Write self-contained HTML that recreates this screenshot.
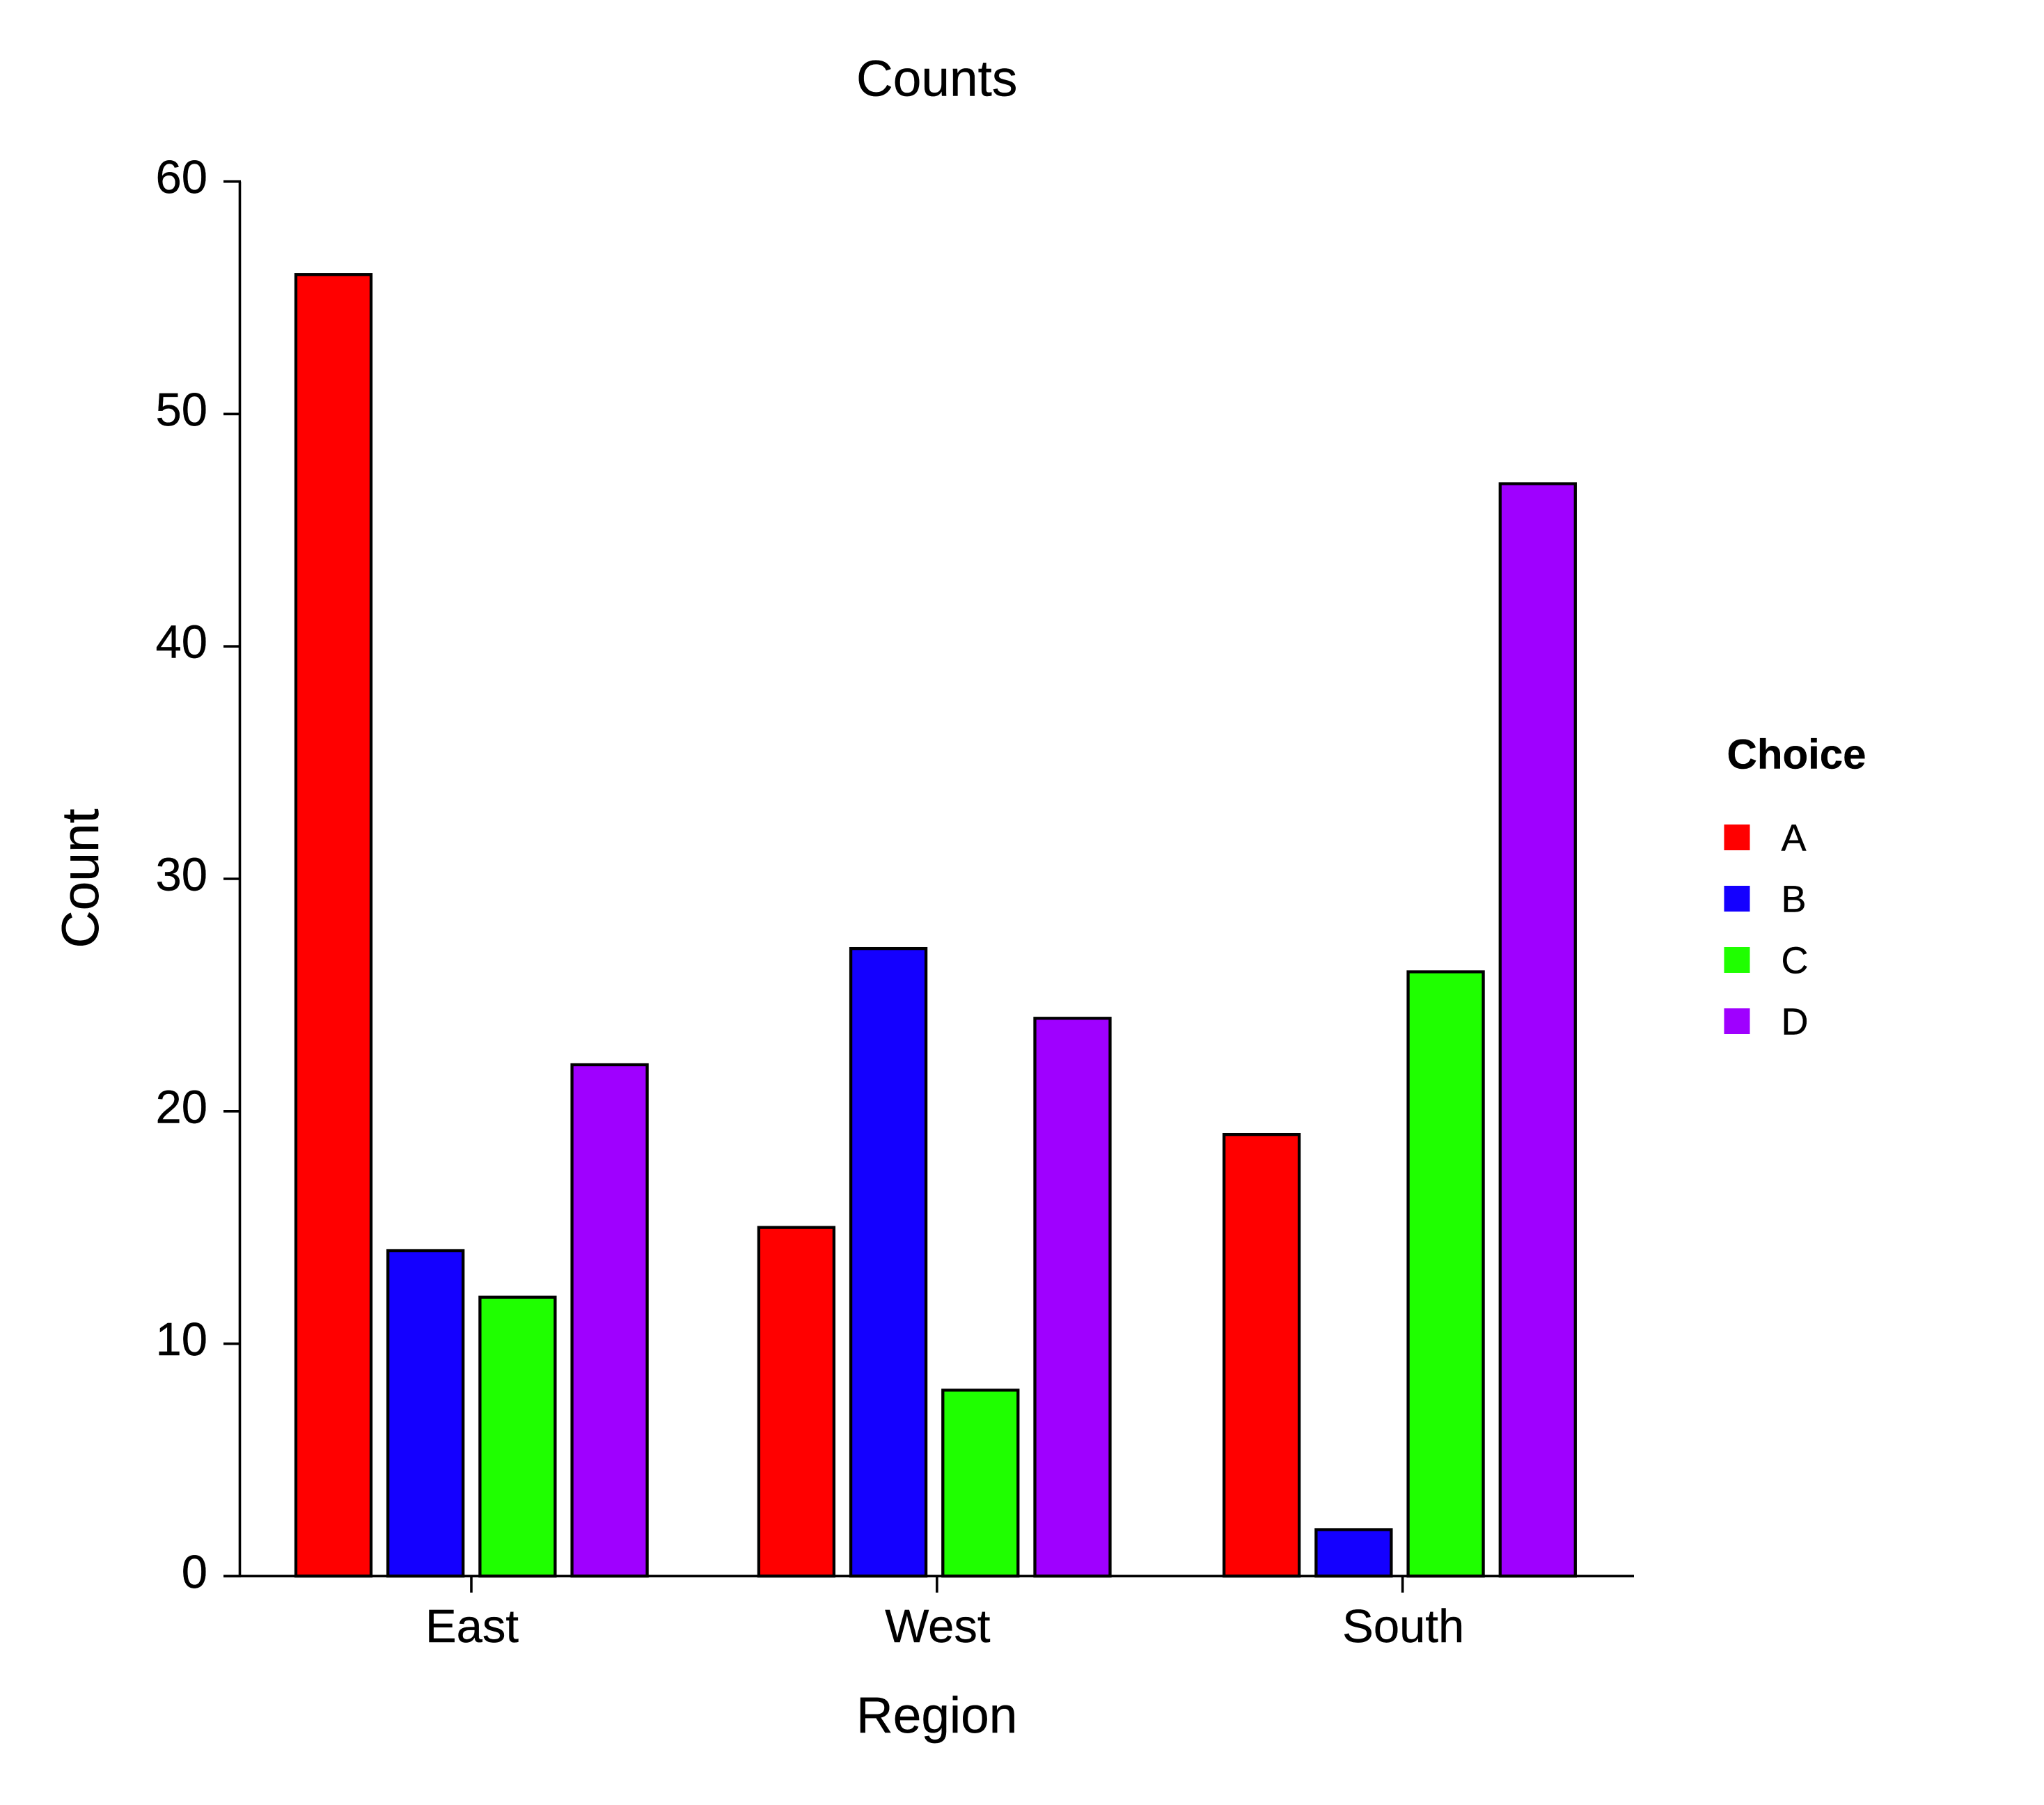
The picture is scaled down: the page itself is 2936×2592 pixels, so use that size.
<!DOCTYPE html>
<html lang="en">
<head>
<meta charset="utf-8">
<title>Counts</title>
<style>
  html, body { margin: 0; padding: 0; background: #ffffff; }
  svg { display: block; }
  text { font-family: "Liberation Sans", Arial, sans-serif; fill: #000000; stroke: #000000; stroke-width: 0.4; text-rendering: geometricPrecision; }
</style>
</head>
<body>
<svg id="chart" xmlns="http://www.w3.org/2000/svg" width="2936" height="2592" viewBox="0 0 2936 2592">
  <rect x="0" y="0" width="2936" height="2592" fill="#ffffff"/>
  <g id="bars"></g>
  <g id="axes"></g>
  <text x="1345.7" y="137.5" font-size="73" text-anchor="middle">Counts</text>
  <text x="1345.7" y="2488" font-size="73" text-anchor="middle">Region</text>
  <text transform="translate(141 1261.5) rotate(-90)" font-size="75" text-anchor="middle">Count</text>
  <g id="legend">
    <text x="2480.5" y="1103.5" font-size="60" font-weight="bold">Choice</text>
  </g>
</svg>
<script>
const regions = ['East', 'West', 'South'];
const choices = ['A', 'B', 'C', 'D'];
const seriesA = [56, 15, 19];
const seriesB = [14, 27, 2];
const seriesC = [12, 8, 26];
const seriesD = [22, 24, 47];
const yTicks = [0, 10, 20, 30, 40, 50, 60];
const choiceColors = ['#ff0000', '#1400ff', '#1fff00', '#9f00ff'];

const SVG_NS = 'http://www.w3.org/2000/svg';
const allSeries = [seriesA, seriesB, seriesC, seriesD];

const plotBottom = 2263.3, plotTop = 260.7, yMax = 60;
function yScale(v) { return plotBottom - (v / yMax) * (plotBottom - plotTop); }

function xTick(i) { return 677 + i * 668.85; }
function xGroupCenter(i) { return 677.3 + i * 664.9 + 3.4 * Math.floor(i / 2); }
const barPitch = 132.2, barWidth = 108;
function xBar(g, s) { return xGroupCenter(g) + (s - (choices.length - 1) / 2) * barPitch - barWidth / 2; }

function make(tag, parent) {
  const el = document.createElementNS(SVG_NS, tag);
  parent.appendChild(el);
  return el;
}
function setAll(el, props) {
  for (const k in props) el.setAttribute(k, props[k]);
}

const barsG = document.getElementById('bars');
allSeries.forEach(function (values, s) {
  values.forEach(function (v, g) {
    const bar = make('rect', barsG);
    setAll(bar, { x: xBar(g, s), y: yScale(v), width: barWidth, height: plotBottom - yScale(v), fill: choiceColors[s], stroke: '#000000', 'stroke-width': 4.3 });
    
    
  });
});

const axesG = document.getElementById('axes');
const yAxis = make('line', axesG);
setAll(yAxis, { x1: 344.5, x2: 344.5, y1: plotTop, y2: plotBottom, stroke: '#000000', 'stroke-width': 3.6 });



const xAxis = make('line', axesG);
setAll(xAxis, { x1: 321, x2: 2347, y1: plotBottom, y2: plotBottom, stroke: '#000000', 'stroke-width': 3.6 });



yTicks.forEach(function (t) {
  const tick = make('line', axesG);
  setAll(tick, { x1: 321, x2: 346, y1: yScale(t), y2: yScale(t), stroke: '#000000', 'stroke-width': 3.6 });
  
  
  const label = make('text', axesG);
  setAll(label, { x: 298, y: yScale(t) + 16.5, 'font-size': 67, 'text-anchor': 'end' });
  
  
  label.textContent = String(t);
});

regions.forEach(function (r, i) {
  const tick = make('line', axesG);
  setAll(tick, { x1: xTick(i), x2: xTick(i), y1: plotBottom, y2: 2287, stroke: '#000000', 'stroke-width': 3.6 });
  
  
  const label = make('text', axesG);
  setAll(label, { x: xTick(i) + 1, y: 2358, 'font-size': 67, 'text-anchor': 'middle' });
  
  
  label.textContent = r;
});

const legendG = document.getElementById('legend');
choices.forEach(function (c, i) {
  const swatch = make('rect', legendG);
  setAll(swatch, { x: 2476.5, y: 1184 + i * 88, width: 37, height: 37, fill: choiceColors[i] });
  
  
  const label = make('text', legendG);
  setAll(label, { x: 2558.5, y: 1221.5 + i * 88, 'font-size': 54 });
  
  
  label.textContent = c;
});
</script>
</body>
</html>
